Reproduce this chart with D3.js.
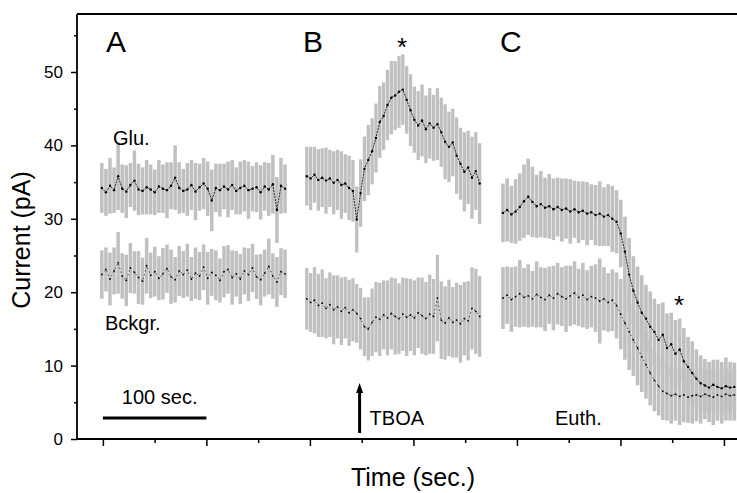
<!DOCTYPE html>
<html><head><meta charset="utf-8">
<script src="https://cdnjs.cloudflare.com/ajax/libs/d3/7.8.5/d3.min.js"></script>
<style>
html,body{margin:0;padding:0;background:#fff;}
svg{display:block;font-family:"Liberation Sans",Arial,sans-serif;}
</style></head>
<body><svg id="chart" width="737" height="493"></svg>
<script>
// ---- data (time in seconds, current in pA) ----
const panelNames = ["A", "B", "C"];
const panelTimes = [[-1, 176], [197, 364], [386.5, 610]];

const gluA = [34.2,33.6,34.5,33.9,35.8,34.1,33.7,34.6,35.2,34.0,33.8,34.3,34.0,33.6,34.4,34.1,33.9,34.5,35.6,34.2,33.8,34.0,34.6,33.7,34.3,34.8,34.1,32.5,34.2,33.9,34.4,34.0,34.6,33.8,34.2,34.5,33.9,34.1,34.3,33.6,34.4,34.0,34.7,31.2,34.5,34.1];
const gluErrA = [3.4,3.2,3.8,3.1,4.6,3.3,3.6,3.0,4.1,3.5,3.2,3.7,3.4,3.1,3.6,3.3,3.8,3.2,4.4,3.5,3.0,3.6,3.4,3.9,3.2,3.5,3.7,4.2,3.3,3.6,3.1,3.8,3.4,3.2,3.6,3.5,3.9,3.1,3.4,3.7,3.3,3.6,4.0,4.5,3.8,3.3];
const bckA = [22.4,23.1,21.8,22.9,24.0,22.2,21.6,23.3,22.7,22.0,21.5,23.6,22.3,22.8,21.9,22.5,23.2,22.1,21.7,22.9,22.4,23.0,21.8,22.6,22.2,23.4,21.9,22.7,22.3,21.6,22.8,23.1,22.0,22.5,21.8,22.9,22.4,23.3,22.1,21.7,22.6,23.5,22.2,21.4,22.8,22.5];
const bckErrA = [3.3,3.0,3.6,3.2,4.2,3.1,3.5,3.4,2.9,3.6,3.2,3.8,3.1,3.4,3.0,3.5,3.3,3.7,3.1,3.4,3.2,3.6,3.0,3.5,3.3,3.1,3.6,3.2,3.4,3.0,3.5,3.3,3.7,3.1,3.4,3.2,3.6,3.3,3.0,3.5,3.2,3.8,3.1,3.4,3.2,3.3];

const gluB = [35.8,35.5,36.0,35.3,35.6,35.2,35.5,34.9,35.3,34.6,34.8,34.2,33.8,29.9,33.5,36.8,38.0,39.2,41.0,43.2,44.0,45.5,46.5,46.8,47.3,47.6,46.2,44.8,43.5,42.7,43.4,42.2,43.0,42.4,42.9,41.8,40.5,39.8,40.4,38.6,37.5,36.4,37.0,35.6,36.5,34.8];
const gluErrB = [4.0,4.3,3.8,4.2,4.0,4.5,3.9,4.3,4.1,4.6,4.0,4.4,4.2,4.5,4.6,4.4,4.8,4.5,4.7,4.9,4.6,4.8,5.0,4.7,4.9,4.8,4.6,4.9,4.5,4.7,4.9,4.6,4.8,4.5,4.9,4.7,5.1,4.8,4.6,5.2,4.9,5.4,5.0,5.6,5.3,5.5];
const bckB = [19.1,18.6,18.9,18.2,18.5,17.8,18.3,17.6,18.0,17.4,17.9,17.2,17.6,17.1,16.4,15.3,15.0,15.9,16.6,16.3,16.9,16.5,17.1,16.7,16.4,17.0,16.6,16.9,16.5,17.2,16.8,16.4,17.0,16.7,19.2,16.2,15.8,16.5,15.9,16.2,15.7,16.4,16.1,17.8,17.4,16.7];
const bckErrB = [4.2,4.0,4.5,4.3,4.6,4.1,4.4,4.7,4.3,4.6,4.2,4.5,4.3,4.0,4.2,4.0,4.3,4.6,4.8,5.0,4.7,5.1,4.9,5.2,4.8,5.0,5.3,4.9,5.1,4.8,5.2,5.0,5.4,5.1,5.9,5.3,5.0,5.2,4.8,5.1,5.3,5.0,5.4,5.6,5.8,5.5];

const gluC = [30.8,31.2,30.6,31.0,31.6,32.4,33.0,32.3,31.7,32.0,31.5,31.7,31.3,31.6,31.2,31.4,31.0,31.3,30.9,31.1,30.7,30.9,30.5,30.7,30.3,30.5,30.0,29.6,28.0,25.5,22.4,20.2,18.6,17.2,16.4,15.3,14.6,13.5,14.2,12.4,12.9,11.6,12.2,10.6,9.8,9.0,8.2,7.6,7.3,7.0,7.4,7.1,6.9,7.2,7.0,7.1];
const gluErrC = [4.0,4.3,3.9,4.4,4.6,5.0,5.2,4.8,4.3,4.5,4.1,4.4,4.2,4.0,4.3,4.1,4.4,3.9,4.2,4.0,4.3,3.8,4.1,4.4,4.0,4.2,4.5,4.3,4.6,4.8,5.0,4.7,4.9,5.1,4.6,4.8,4.5,4.9,4.4,4.7,4.3,4.6,4.2,4.5,4.1,4.3,4.0,3.8,3.6,3.5,3.4,3.7,3.6,3.9,3.5,3.3];
const bckC = [19.2,19.6,19.0,19.4,19.8,19.3,19.5,19.1,19.7,19.3,19.0,19.6,19.2,19.8,19.4,19.1,19.5,19.9,19.3,19.6,19.0,19.4,19.2,18.8,19.1,18.6,18.9,18.2,17.0,15.8,14.6,13.5,12.4,11.2,10.1,9.0,8.0,7.2,6.5,6.2,5.9,6.1,5.8,6.0,5.7,5.9,6.0,5.8,6.1,5.9,5.7,6.0,5.8,6.1,5.9,6.0];
const bckErrC = [4.2,3.9,4.4,4.1,4.6,4.0,4.3,3.8,4.5,4.1,4.3,3.9,4.4,4.2,4.0,4.5,4.1,4.3,3.9,4.4,4.0,4.2,4.6,5.8,4.3,4.0,4.2,4.5,4.8,5.0,5.2,4.9,5.1,4.8,4.6,4.4,4.2,4.0,3.9,3.7,3.8,3.6,3.9,3.7,3.5,3.8,3.6,3.7,3.4,3.6,3.8,3.5,3.7,3.6,3.4,3.5];

const xMajorTicks = [0,100,200,300,400,500,600];
const xMinorTicks = [50,150,250,350,450,550];
const yMajorTicks = [0,10,20,30,40,50];
const yMinorTicks = [5,15,25,35,45,55];
const scaleBar = [0, 100];          // 100 sec. bar
const tboaTime = 248;               // TBOA application

// ---- layout ----
const svg = d3.select("#chart");
const x = d3.scaleLinear().domain([-25, 612.6]).range([77, 737]);
const y = d3.scaleLinear().domain([0, 57.9]).range([439, 14]);

function series(vals, errs, pi){
  const [t0,t1] = panelTimes[pi];
  const n = vals.length;
  return vals.map((v,i)=>({t: t0 + (t1-t0)*i/(n-1), v, e: errs[i]}));
}
const traces = [
  {kind:"glu", p:0, d: series(gluA, gluErrA, 0)},
  {kind:"bck", p:0, d: series(bckA, bckErrA, 0)},
  {kind:"glu", p:1, d: series(gluB, gluErrB, 1)},
  {kind:"bck", p:1, d: series(bckB, bckErrB, 1)},
  {kind:"glu", p:2, d: series(gluC, gluErrC, 2)},
  {kind:"bck", p:2, d: series(bckC, bckErrC, 2)},
];

// error bars
const gBars = svg.append("g");
traces.forEach(tr=>{
  const step = x(tr.d[1].t) - x(tr.d[0].t);
  gBars.selectAll(null).data(tr.d).enter().append("line")
    .attr("x1", d=>x(d.t)).attr("x2", d=>x(d.t))
    .attr("y1", d=>y(d.v-d.e)).attr("y2", d=>y(d.v+d.e))
    .attr("stroke", "#c0c0c0").attr("stroke-width", step*0.86);
});

// mean traces
const line = d3.line().x(d=>x(d.t)).y(d=>y(d.v));
traces.forEach(tr=>{
  svg.append("path").datum(tr.d).attr("d", line).attr("fill","none")
    .attr("stroke", "#111").attr("stroke-width", tr.kind==="glu"?0.9:0.7)
    .attr("stroke-dasharray", tr.kind==="glu"?"2,1":"1.5,2.5");
  svg.append("g").selectAll("circle").data(tr.d).enter().append("circle")
    .attr("cx", d=>x(d.t)).attr("cy", d=>y(d.v))
    .attr("r", tr.kind==="glu"?1.2:0.9).attr("fill","#000");
});

// axes
const bottomMajor = d3.axisBottom(x).tickValues(xMajorTicks).tickSize(7).tickFormat("").tickSizeOuter(0);
const bottomMinor = d3.axisBottom(x).tickValues(xMinorTicks).tickSize(4).tickFormat("").tickSizeOuter(0);
const gxa = svg.append("g").attr("transform", `translate(0,${y(0)})`).call(bottomMajor);
const gxb = svg.append("g").attr("transform", `translate(0,${y(0)})`).call(bottomMinor);
[gxa,gxb].forEach(g=>{g.select(".domain").remove(); g.selectAll("line").attr("stroke-width",1.5);});

const leftMajor = d3.axisLeft(y).tickValues(yMajorTicks).tickSize(6).tickSizeOuter(0).tickPadding(8);
const leftMinor = d3.axisLeft(y).tickValues(yMinorTicks).tickSize(3).tickFormat("").tickSizeOuter(0);
const gya = svg.append("g").attr("transform", `translate(${x.range()[0]},0)`).call(leftMajor);
const gyb = svg.append("g").attr("transform", `translate(${x.range()[0]},0)`).call(leftMinor);
[gya,gyb].forEach(g=>{g.select(".domain").remove(); g.selectAll("line").attr("stroke-width",1.5);});
gya.selectAll("text").attr("font-size", 17).attr("font-family","Liberation Sans, Arial, sans-serif").attr("fill","#000");

// frame lines
svg.append("line").attr("x1",x.range()[0]).attr("x2",737).attr("y1",y(0)).attr("y2",y(0)).attr("stroke","#000").attr("stroke-width",1.8);
svg.append("line").attr("x1",x.range()[0]).attr("x2",737).attr("y1",y.range()[1]).attr("y2",y.range()[1]).attr("stroke","#000").attr("stroke-width",1.8);
svg.append("line").attr("x1",x.range()[0]).attr("x2",x.range()[0]).attr("y1",y(0)).attr("y2",y.range()[1]).attr("stroke","#000").attr("stroke-width",1.8);

// axis titles
svg.append("text").attr("transform","translate(30,240) rotate(-90)").attr("text-anchor","middle")
  .attr("font-size",25).text("Current (pA)");
svg.append("text").attr("x",413).attr("y",486).attr("text-anchor","middle")
  .attr("font-size",25).text("Time (sec.)");

// panel letters
const letterX = [106, 303, 500];
panelNames.forEach((p,i)=>{
  svg.append("text").attr("x",letterX[i]).attr("y",52).attr("font-size",30).text(p);
});
// asterisks
svg.append("text").attr("x",402).attr("y",56).attr("text-anchor","middle").attr("font-size",26).text("*");
svg.append("text").attr("x",679).attr("y",314).attr("text-anchor","middle").attr("font-size",26).text("*");

// labels
svg.append("text").attr("x",113).attr("y",145).attr("font-size",20).text("Glu.");
svg.append("text").attr("x",105).attr("y",330).attr("font-size",20).text("Bckgr.");

// scale bar
svg.append("line").attr("x1",x(scaleBar[0])).attr("x2",x(scaleBar[1])).attr("y1",418).attr("y2",418)
  .attr("stroke","#000").attr("stroke-width",3);
svg.append("text").attr("x",(x(scaleBar[0])+x(scaleBar[1]))/2+5).attr("y",404).attr("text-anchor","middle")
  .attr("font-size",20).text("100 sec.");

// TBOA arrow
const ax0 = x(tboaTime);
svg.append("line").attr("x1",ax0).attr("x2",ax0).attr("y1",433).attr("y2",392).attr("stroke","#000").attr("stroke-width",3);
svg.append("path").attr("d",`M${ax0-3.5},${393} L${ax0},${383} L${ax0+3.5},${393} Z`).attr("fill","#000");
svg.append("text").attr("x",ax0+10).attr("y",425).attr("font-size",20).text("TBOA");
svg.append("text").attr("x",555).attr("y",425).attr("font-size",20).text("Euth.");
</script></body></html>
